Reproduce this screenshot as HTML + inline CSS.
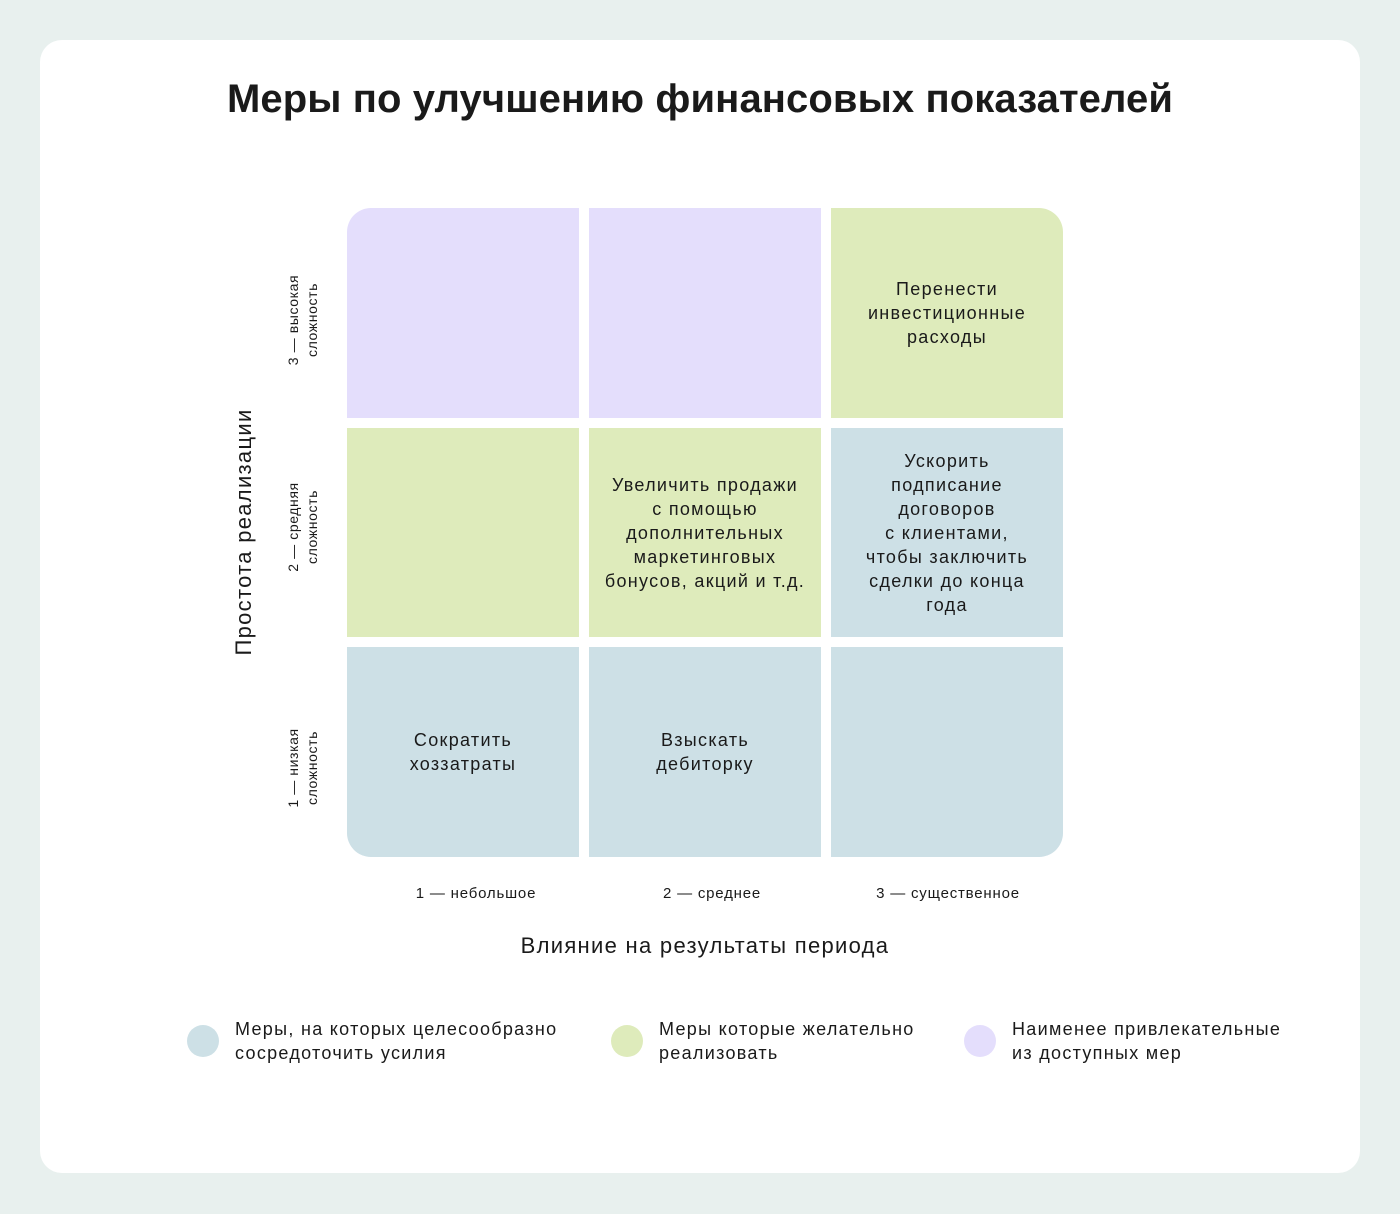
<!DOCTYPE html>
<html><head><meta charset="utf-8"><style>
*{margin:0;padding:0;box-sizing:border-box}
body{width:1400px;height:1214px;background:#e8f0ee;font-family:"Liberation Sans",sans-serif;color:#1a1a1a;position:relative;overflow:hidden}
.card{position:absolute;left:40px;top:40px;width:1320px;height:1133px;background:#fff;border-radius:22px}
.t{position:absolute;left:0;width:1400px;top:77px;text-align:center;font-weight:bold;font-size:40px;letter-spacing:0.1px}
.c{position:absolute;width:232px;display:flex;align-items:center;justify-content:center;text-align:center;font-size:18px;line-height:24px;letter-spacing:1.3px}
.p{background:#e4defc}.g{background:#deebbb}.b{background:#cde0e6}
.v{position:absolute;transform:translate(-50%,-50%) rotate(-90deg);text-align:center;white-space:nowrap}
.cl{position:absolute;top:885px;font-size:15px;letter-spacing:0.8px;transform:translateX(-50%);white-space:nowrap}
.dot{position:absolute;width:32px;height:32px;border-radius:50%}
.lt{position:absolute;top:1017px;font-size:18px;line-height:24px;letter-spacing:1.3px;white-space:nowrap}
</style></head><body>
<div class="card"></div>
<div class="t">Меры по улучшению финансовых показателей</div>

<div class="c p" style="left:347px;top:208px;height:210px;border-top-left-radius:24px"></div>
<div class="c p" style="left:589px;top:208px;height:210px"></div>
<div class="c g" style="left:831px;top:208px;height:210px;border-top-right-radius:24px">Перенести<br>инвестиционные<br>расходы</div>
<div class="c g" style="left:347px;top:428px;height:209px"></div>
<div class="c g" style="left:589px;top:428px;height:209px;white-space:nowrap">Увеличить продажи<br>с помощью<br>дополнительных<br>маркетинговых<br>бонусов, акций и т.д.</div>
<div class="c b" style="left:831px;top:428px;height:209px">Ускорить<br>подписание<br>договоров<br>с клиентами,<br>чтобы заключить<br>сделки до конца<br>года</div>
<div class="c b" style="left:347px;top:647px;height:210px;border-bottom-left-radius:24px">Сократить<br>хоззатраты</div>
<div class="c b" style="left:589px;top:647px;height:210px">Взыскать<br>дебиторку</div>
<div class="c b" style="left:831px;top:647px;height:210px;border-bottom-right-radius:24px"></div>

<div class="v" style="left:244px;top:532px;font-size:22px;letter-spacing:1.3px">Простота реализации</div>
<div class="v" style="left:303px;top:320px;font-size:14px;line-height:19px;letter-spacing:0.6px">3 — высокая<br>сложность</div>
<div class="v" style="left:303px;top:527px;font-size:14px;line-height:19px;letter-spacing:0.6px">2 — средняя<br>сложность</div>
<div class="v" style="left:303px;top:768px;font-size:14px;line-height:19px;letter-spacing:0.6px">1 — низкая<br>сложность</div>

<div class="cl" style="left:476px">1 — небольшое</div>
<div class="cl" style="left:712px">2 — среднее</div>
<div class="cl" style="left:948px">3 — существенное</div>
<div style="position:absolute;left:0;width:1410px;top:933px;text-align:center;font-size:22px;letter-spacing:1.3px">Влияние на результаты периода</div>

<div class="dot b" style="left:187px;top:1025px"></div>
<div class="lt" style="left:235px">Меры, на которых целесообразно<br>сосредоточить усилия</div>
<div class="dot g" style="left:611px;top:1025px"></div>
<div class="lt" style="left:659px">Меры которые желательно<br>реализовать</div>
<div class="dot p" style="left:964px;top:1025px"></div>
<div class="lt" style="left:1012px">Наименее привлекательные<br>из доступных мер</div>
</body></html>
